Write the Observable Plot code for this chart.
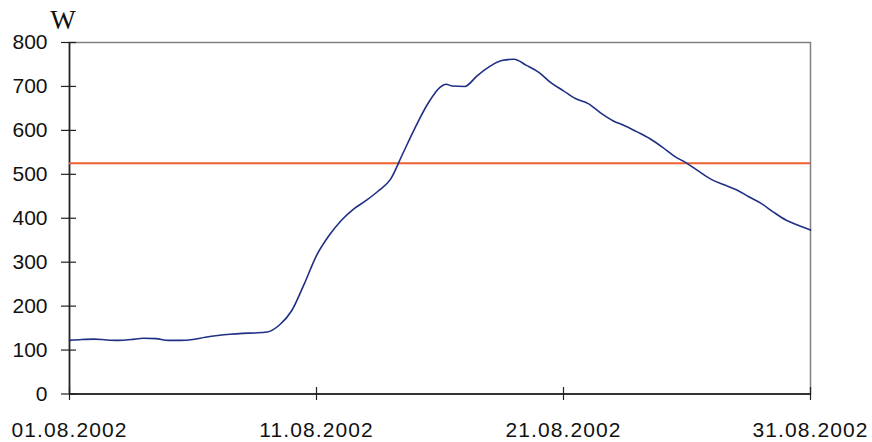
<!DOCTYPE html>
<html><head><meta charset="utf-8">
<script src="https://cdn.jsdelivr.net/npm/d3@7"></script>
<script src="https://cdn.jsdelivr.net/npm/@observablehq/plot@0.6"></script>
<style>body{margin:0;background:#fff}</style>
</head><body><div id="chart"></div>
<script>
// Day of August 2002 (half-day readings) and power in W
const days = [1,1.5,2,2.5,3,3.5,4,4.5,5,5.5,6,6.5,7,7.5,8,8.5,9,9.5,10,10.5,11,11.5,12,12.5,13,13.5,14,14.5,15,15.5,16,16.25,16.5,17,17.5,18,18.5,19,19.5,20,20.5,21,21.5,22,22.5,23,23.5,24,24.5,25,25.5,26,26.5,27,27.5,28,28.5,29,29.5,30,30.5,31];
const watts = [122,124,125,123,122,124,127,126,122,122,124,129,133,136,138,139,141,157,190,250,315,360,395,421,440,462,489,548,607,660,698,705,701,700,724,745,759,762,748,732,708,690,672,661,640,622,610,596,581,562,541,525,506,488,476,465,449,434,414,396,384,373];
const threshold = [525];
const yTicks = [0,100,200,300,400,500,600,700,800];
const xTickDays = [1,11,21,31];
const unitLabel = "W";

const toDate = d => new Date(Date.UTC(2002, 7, 1) + (d - 1) * 864e5);
const data = days.map((d, i) => ({date: toDate(d), value: watts[i]}));
const xTicks = xTickDays.map(toDate);
const fmt = d3.utcFormat("%d.%m.%Y");

const chart = Plot.plot({
  width: 872, height: 442,
  marginLeft: 69, marginRight: 62, marginTop: 42, marginBottom: 48.5,
  style: {fontFamily: "'Liberation Sans', Arial, sans-serif", color: "#111", background: "#fff", overflow: "visible"},
  x: {type: "utc", domain: [xTicks[0], xTicks[xTicks.length - 1]], axis: null},
  y: {domain: [0, 800], axis: null},
  marks: [
    Plot.frame({stroke: "#808080", strokeWidth: 1.5}),
    Plot.ruleX([xTicks[0]], {stroke: "#222", strokeWidth: 1.6}),
    Plot.ruleY([0], {stroke: "#333", strokeWidth: 2}),
    Plot.axisY({ticks: yTicks, tickSize: 15, dx: 7, fill: "none", stroke: "#222", strokeWidth: 1.2, label: null}),
    Plot.axisY({ticks: yTicks, tickSize: 0, tickPadding: 22, fontSize: 21, label: null}),
    Plot.axisX({ticks: xTicks, tickSize: 13, dy: -6.5, fill: "none", stroke: "#222", strokeWidth: 1.2, label: null}),
    Plot.axisX({ticks: xTicks, tickSize: 0, tickPadding: 28, tickFormat: fmt, fontSize: 21, label: null}),
    Plot.ruleY(threshold, {stroke: "#f06030", strokeWidth: 2}),
    Plot.line(data, {x: "date", y: "value", stroke: "#1f2f85", strokeWidth: 1.6, curve: "monotone-x"}),
    Plot.text([unitLabel], {frameAnchor: "top-left", dx: -6.5, dy: -14, fontFamily: "'Liberation Serif', 'Times New Roman', serif", fontSize: 27, textAnchor: "middle", lineAnchor: "bottom"})
  ]
});
d3.select(chart).selectAll("g[aria-label='x-axis tick label'] text").style("letter-spacing", "1.1px");
document.getElementById("chart").append(chart);
</script>
</body></html>
